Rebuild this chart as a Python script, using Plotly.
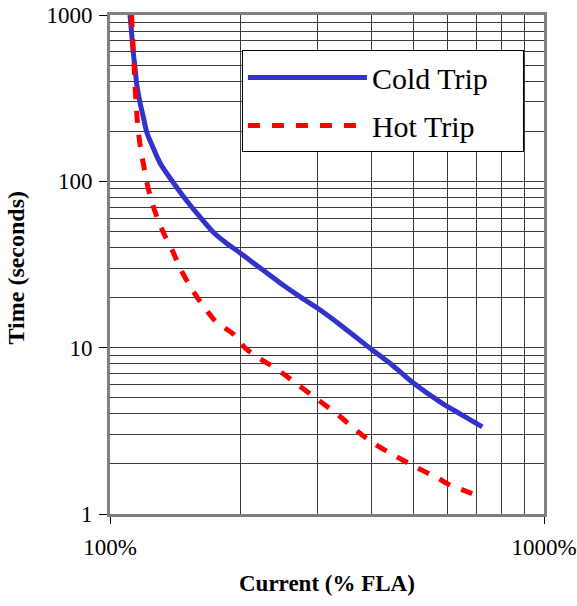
import plotly.graph_objects as go

# Cold trip curve (current % FLA, time s)
cold_current = [111.2, 112.1, 113.0, 114.2, 115.4, 117.3, 119.5, 121.7, 125.0, 130.4,
                137.5, 145.0, 152.9, 161.3, 172.8, 185.2, 199.5, 221.8, 246.7, 274.4,
                300.4, 339.4, 402.2, 449.6, 500, 577, 642, 721]
cold_time = [1000, 790, 616, 480, 374, 296, 240, 195, 165, 129,
             104.7, 86.3, 72.1, 61.0, 49.6, 42.6, 37.1, 30.1, 24.5, 20.2,
             17.3, 13.7, 9.68, 7.76, 6.13, 4.71, 3.99, 3.34]

# Hot trip curve
hot_current = [112.1, 113.0, 113.9, 114.8, 116.0, 117.6, 119.5, 121.7, 124.3, 129.0,
               133.9, 139.0, 145.8, 152.9, 160.4, 167.4, 174.7, 184.2, 192.2, 199.5,
               204.8, 218.3, 233.9, 249.3, 271.5, 301.9, 335.7, 373.3, 404.4, 454.5,
               505.3, 567.9, 608.5, 659.2, 706.3]
hot_time = [1000, 660, 436, 296, 209, 158.6, 125.4, 97.7, 78.3, 58.6,
            46.9, 38.7, 29.3, 23.5, 19.3, 16.6, 14.5, 13.1, 12.1, 10.8,
            9.95, 8.79, 7.87, 7.04, 5.96, 4.85, 3.94, 3.11, 2.67, 2.23,
            1.92, 1.65, 1.49, 1.375, 1.28]

x_tick_vals = [100, 1000]
x_tick_text = ["100%", "1000%"]
y_tick_vals = [1, 10, 100, 1000]
y_tick_text = ["1", "10", "100", "1000"]
x_title = "Current (% FLA)"
y_title = "Time (seconds)"

FONT = "Liberation Serif, Times New Roman, serif"
PAD = "&nbsp;&nbsp;&nbsp;&nbsp;"

fig = go.Figure()
fig.add_trace(go.Scatter(
    x=cold_current, y=cold_time, mode="lines", name="Cold Trip" + PAD,
    legendgroup="cold",
    line=dict(color="#3333CC", width=5, shape="spline", smoothing=1.0),
))
fig.add_trace(go.Scatter(
    x=hot_current, y=hot_time, mode="lines", name="Hot Trip" + PAD,
    legendgroup="hot",
    line=dict(color="#FF0000", width=5, dash="12px,12px", shape="spline", smoothing=0.8),
))

grid_color = "#3a3a3a"

fig.update_xaxes(
    type="log", range=[2, 3], automargin=False,
    tickvals=x_tick_vals, ticktext=x_tick_text,
    ticks="outside", ticklen=7, tickcolor="#000000", tickwidth=1,
    ticklabelstandoff=3,
    showgrid=True, gridcolor=grid_color, gridwidth=1,
    minor=dict(dtick="D1", showgrid=True, gridcolor=grid_color, gridwidth=1, ticks=""),
    showline=True, linecolor="#808080", linewidth=3, mirror=True,
    tickfont=dict(family=FONT, size=23, color="black"),
    zeroline=False,
)
fig.update_yaxes(
    type="log", range=[0, 3], automargin=False,
    tickvals=y_tick_vals, ticktext=y_tick_text,
    ticks="outside", ticklen=8, tickcolor="#000000", tickwidth=1,
    ticklabelstandoff=2,
    showgrid=True, gridcolor=grid_color, gridwidth=1,
    minor=dict(dtick="D1", showgrid=True, gridcolor=grid_color, gridwidth=1, ticks=""),
    showline=True, linecolor="#808080", linewidth=3, mirror=True,
    tickfont=dict(family=FONT, size=23, color="black"),
    zeroline=False,
)

fig.add_annotation(
    text="<b>" + x_title + "</b>", xref="paper", yref="paper", x=0.5, y=0,
    xanchor="center", yanchor="middle", yshift=-69, showarrow=False,
    font=dict(family=FONT, size=23, color="black"),
)
fig.add_annotation(
    text="<b>" + y_title + "</b>", xref="paper", yref="paper", x=0, y=0.5,
    xanchor="center", yanchor="middle", xshift=-95, yshift=-3, textangle=-90,
    showarrow=False, font=dict(family=FONT, size=24, color="black"),
)

fig.update_layout(
    width=577, height=606,
    margin=dict(l=110, r=33, t=15, b=92),
    paper_bgcolor="white", plot_bgcolor="white",
    font=dict(family=FONT, color="black"),
    legend=dict(
        x=0.304, y=0.929, xanchor="left", yanchor="top",
        bgcolor="white", bordercolor="black", borderwidth=1,
        font=dict(family=FONT, size=30, color="black"),
        itemwidth=119, tracegroupgap=6,
    ),
)

fig.write_html("out.html")
